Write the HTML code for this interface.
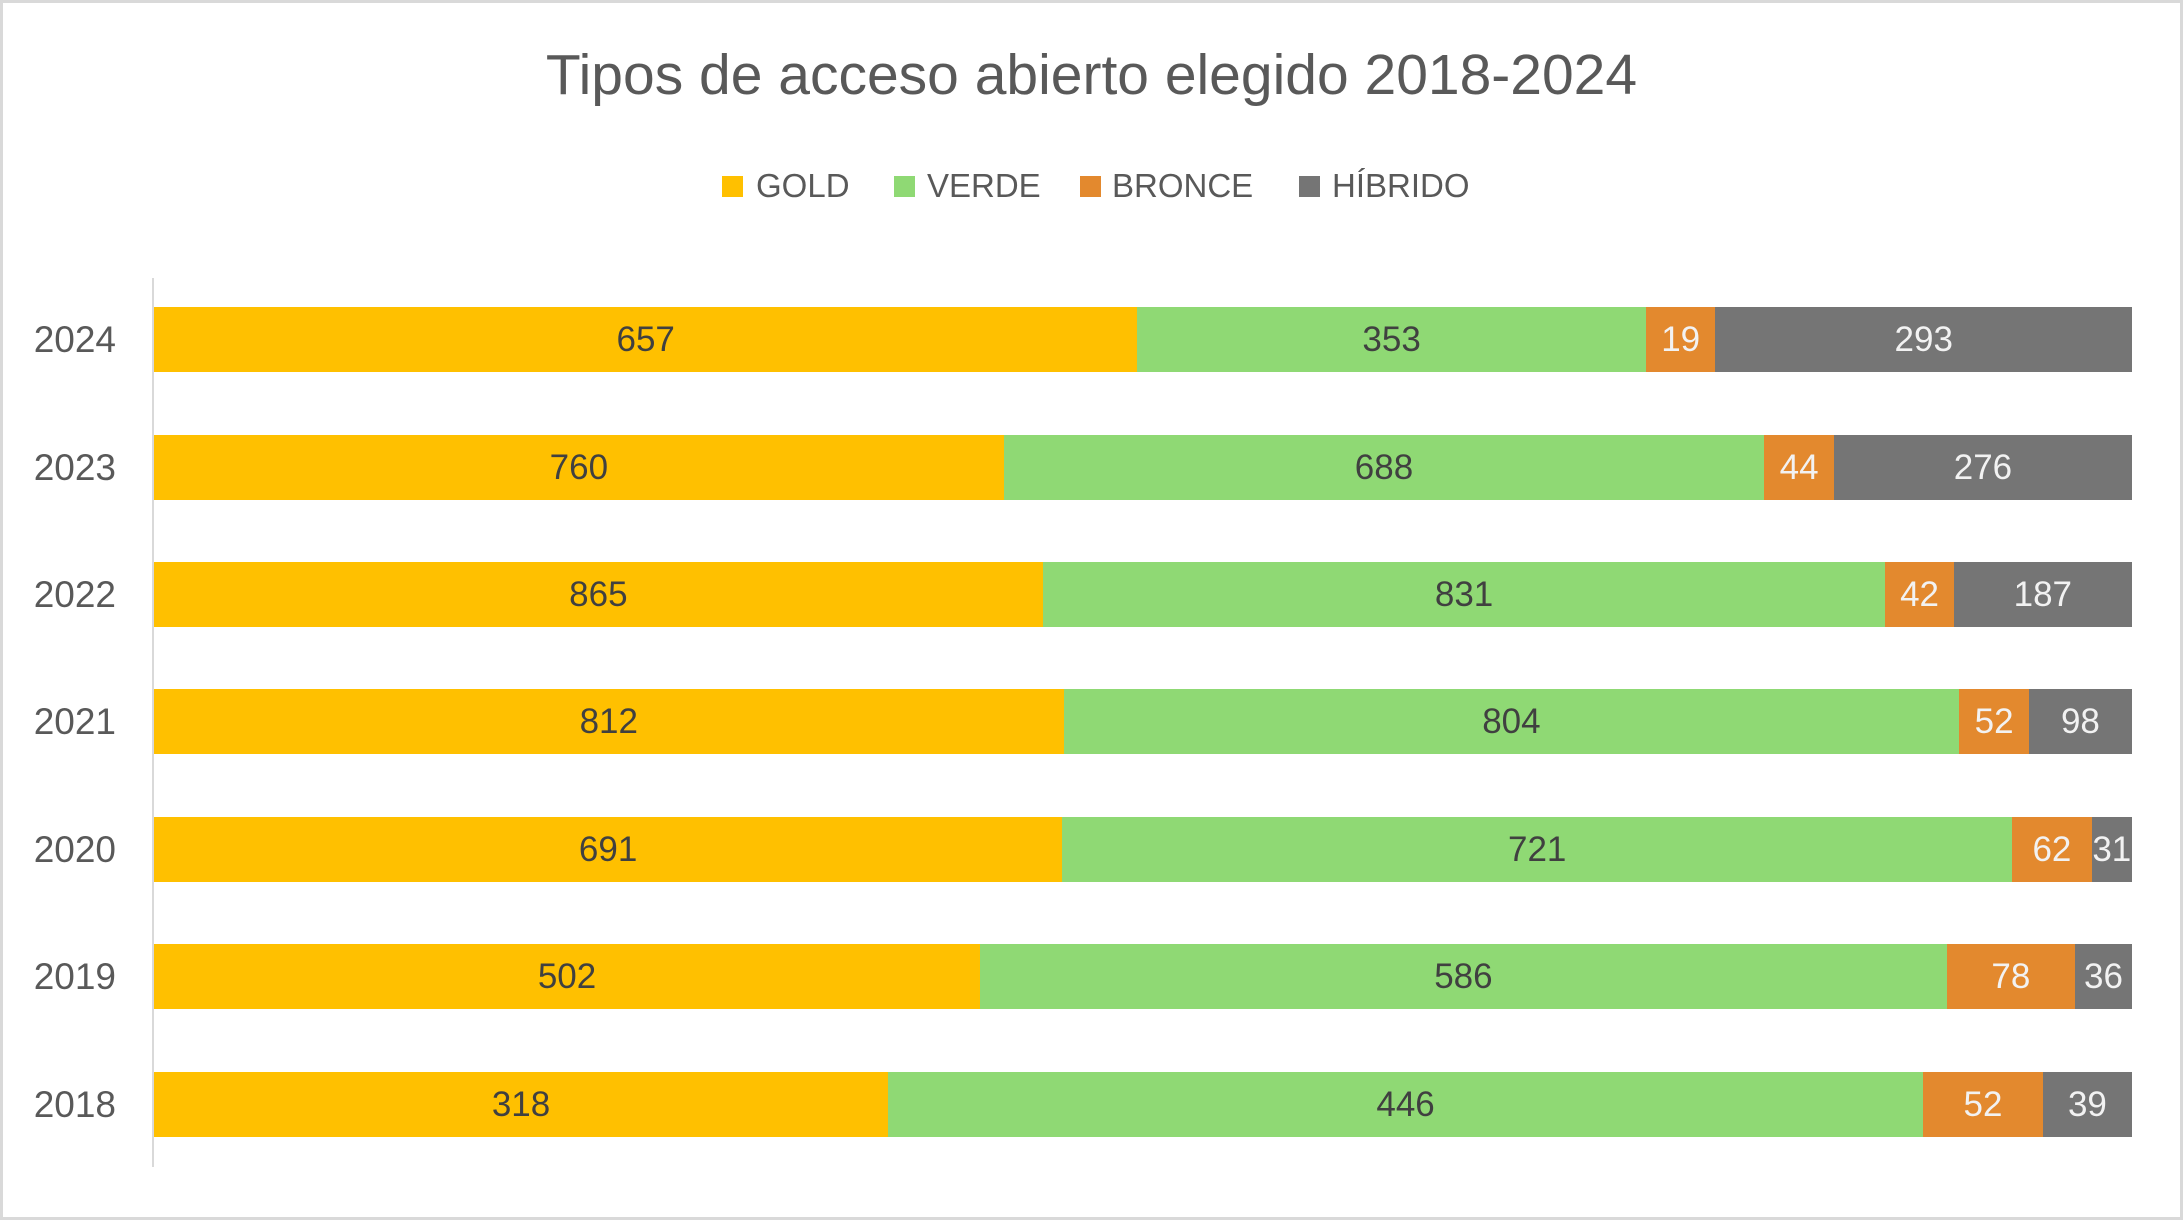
<!DOCTYPE html>
<html><head><meta charset="utf-8"><style>
body{margin:0;width:2183px;height:1220px;background:#fff;font-family:"Liberation Sans",sans-serif;overflow:hidden}
.frame{position:absolute;left:0;top:0;width:2177px;height:1214px;border:3px solid #d9d9d9}
.title{position:absolute;left:0;width:2183px;top:42px;text-align:center;font-size:57px;color:#595959;line-height:66px}
.leg{position:absolute;top:168px;font-size:33px;color:#595959;line-height:36px}
.sq{position:absolute;top:176px;width:21px;height:21px}
.axis{position:absolute;left:152px;top:278px;width:2px;height:889px;background:#d9d9d9}
.row{position:absolute;left:154px;width:1978px;height:65px;display:flex}
.row div{height:65px;display:flex;align-items:center;justify-content:center;font-size:35px;overflow:visible;white-space:nowrap}
.g{background:#ffc000;color:#404040}.v{background:#8fd974;color:#404040}.b{background:#e3892e;color:#f2f2f2}.h{background:#757575;color:#f2f2f2}
.yr{position:absolute;left:0;width:116px;text-align:right;font-size:37px;color:#595959;line-height:65px}
</style></head><body>
<div class="frame"></div>
<div class="title">Tipos de acceso abierto elegido 2018-2024</div>
<div class="sq" style="left:722px;background:#ffc000"></div><div class="leg" style="left:756px">GOLD</div>
<div class="sq" style="left:894px;background:#8fd974"></div><div class="leg" style="left:927px">VERDE</div>
<div class="sq" style="left:1080px;background:#e3892e"></div><div class="leg" style="left:1112px">BRONCE</div>
<div class="sq" style="left:1299px;background:#757575"></div><div class="leg" style="left:1332px">HÍBRIDO</div>
<div class="axis"></div>

<div class="yr" style="top:307px">2024</div>
<div class="row" style="top:307px"><div class="g" style="flex:706 1 0">657</div><div class="v" style="flex:365 1 0">353</div><div class="b" style="flex:50 1 0">19</div><div class="h" style="flex:299 1 0">293</div></div>
<div class="yr" style="top:435px">2023</div>
<div class="row" style="top:435px"><div class="g" style="flex:610 1 0">760</div><div class="v" style="flex:546 1 0">688</div><div class="b" style="flex:50 1 0">44</div><div class="h" style="flex:214 1 0">276</div></div>
<div class="yr" style="top:562px">2022</div>
<div class="row" style="top:562px"><div class="g" style="flex:638 1 0">865</div><div class="v" style="flex:605 1 0">831</div><div class="b" style="flex:49 1 0">42</div><div class="h" style="flex:128 1 0">187</div></div>
<div class="yr" style="top:689px">2021</div>
<div class="row" style="top:689px"><div class="g" style="flex:653 1 0">812</div><div class="v" style="flex:643 1 0">804</div><div class="b" style="flex:50 1 0">52</div><div class="h" style="flex:74 1 0">98</div></div>
<div class="yr" style="top:817px">2020</div>
<div class="row" style="top:817px"><div class="g" style="flex:652 1 0">691</div><div class="v" style="flex:682 1 0">721</div><div class="b" style="flex:57 1 0">62</div><div class="h" style="flex:29 1 0">31</div></div>
<div class="yr" style="top:944px">2019</div>
<div class="row" style="top:944px"><div class="g" style="flex:593 1 0">502</div><div class="v" style="flex:694 1 0">586</div><div class="b" style="flex:92 1 0">78</div><div class="h" style="flex:41 1 0">36</div></div>
<div class="yr" style="top:1072px">2018</div>
<div class="row" style="top:1072px"><div class="g" style="flex:527 1 0">318</div><div class="v" style="flex:743 1 0">446</div><div class="b" style="flex:86 1 0">52</div><div class="h" style="flex:64 1 0">39</div></div>
</body></html>
